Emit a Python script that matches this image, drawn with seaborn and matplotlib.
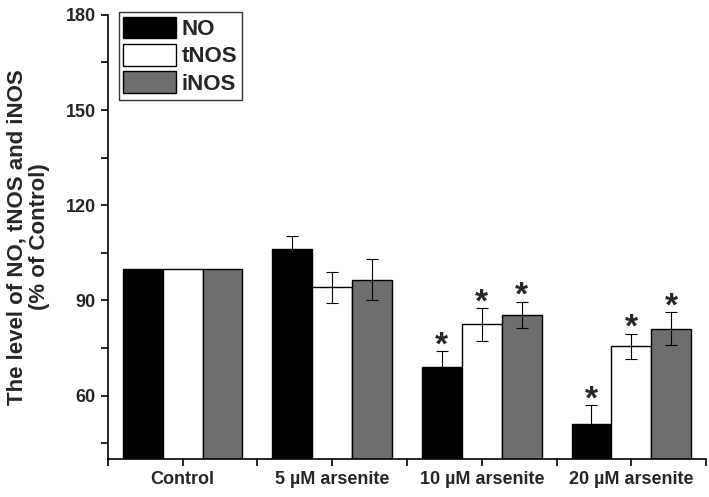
import pandas as pd
import seaborn as sns
import matplotlib.pyplot as plt
from matplotlib.ticker import MultipleLocator

groups = ["Control", "5 µM arsenite", "10 µM arsenite", "20 µM arsenite"]
series = ["NO", "tNOS", "iNOS"]
no_vals = [100, 106.3, 68.9, 51.0]
tnos_vals = [100, 94.1, 82.4, 75.5]
inos_vals = [100, 96.5, 85.5, 81.1]
no_err = [0, 4.0, 5.0, 6.0]
tnos_err = [0, 5.0, 5.2, 4.0]
inos_err = [0, 6.4, 4.1, 5.2]
no_star = [False, False, True, True]
tnos_star = [False, False, True, True]
inos_star = [False, False, True, True]

df = pd.DataFrame({
    "group": groups * 3,
    "series": [s for s in series for _ in groups],
    "value": no_vals + tnos_vals + inos_vals,
})
errs = [no_err, tnos_err, inos_err]
stars = [no_star, tnos_star, inos_star]

sns.set_style("ticks")
plt.rcParams['font.family'] = ['Liberation Sans', 'DejaVu Sans']
plt.rcParams['font.weight'] = 'bold'

fig = plt.figure(figsize=(7.09, 4.97), dpi=100)
ax = fig.add_axes([0.152, 0.0765, 0.844, 0.8935])

palette = {"NO": "#000000", "tNOS": "#ffffff", "iNOS": "#6e6e6e"}
sns.barplot(data=df, x="group", y="value", hue="series", hue_order=series,
            order=groups, palette=palette, errorbar=None, width=0.8,
            edgecolor="black", linewidth=1, saturation=1, ax=ax)

for cont, e, st in zip(ax.containers, errs, stars):
    xs = [b.get_x() + b.get_width() / 2 for b in cont]
    hs = [b.get_height() for b in cont]
    for x, h, er, s in zip(xs, hs, e, st):
        if er > 0:
            ax.errorbar(x, h, yerr=er, fmt="none", ecolor="black",
                        elinewidth=0.8, capsize=4, capthick=0.8, zorder=3)
        if s:
            ax.text(x, h + er - 3.2, "*", ha="center", va="bottom",
                    fontsize=24, fontweight="bold")

ax.set_ylim(40, 180)
ax.set_xlim(-0.5, 3.5)
ax.yaxis.set_major_locator(MultipleLocator(30))
ax.yaxis.set_minor_locator(MultipleLocator(15))
ax.xaxis.set_minor_locator(MultipleLocator(0.5))
ax.tick_params(axis="both", which="both", direction="out", length=5, width=1.2, color="black")
ax.tick_params(axis="both", labelsize=13)
for lab in ax.get_xticklabels() + ax.get_yticklabels():
    lab.set_fontweight("bold")
ax.set_xlabel("")
ax.set_ylabel("The level of NO, tNOS and iNOS\n(% of Control)", fontsize=16,
              fontweight="bold", linespacing=1.05)
ax.yaxis.set_label_coords(-0.097, 0.5)
sns.despine(ax=ax)
for sp in ["left", "bottom"]:
    ax.spines[sp].set_linewidth(1.2)
    ax.spines[sp].set_color("black")

leg = ax.legend(loc="upper left", bbox_to_anchor=(0.018, 1.0074), frameon=True,
                fancybox=False, edgecolor="black", fontsize=16,
                handlelength=2.35, handleheight=1.13, labelspacing=0.18,
                handletextpad=0.27, borderpad=0.22, borderaxespad=0)
leg.get_frame().set_linewidth(1)
for t in leg.get_texts():
    t.set_fontweight("bold")

fig.savefig("out.png", dpi=100)
